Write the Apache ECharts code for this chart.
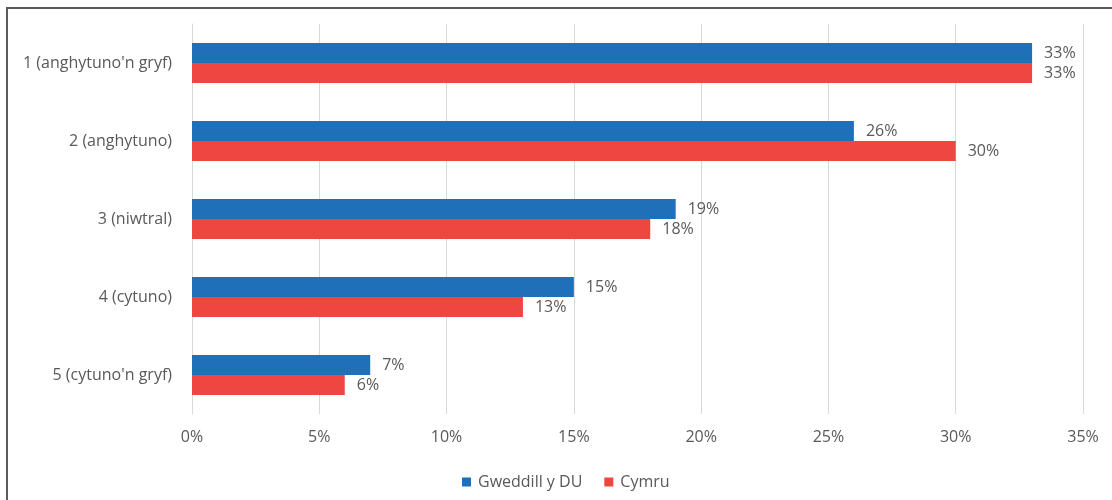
<!DOCTYPE html>
<html>
<head>
<meta charset="utf-8">
<script src="https://cdn.jsdelivr.net/npm/echarts@6/dist/echarts.min.js"></script>
<style>
  html, body { margin: 0; padding: 0; background: #ffffff; }
  #frame {
    position: absolute; left: 6px; top: 7px; width: 1200px; height: 600px;
    border-left: 2px solid #5b5b5b; border-top: 2px solid #5b5b5b;
  }
  #chart { position: absolute; left: 0; top: 0; width: 1112px; height: 500px; }
</style>
</head>
<body>
<div id="frame"></div>
<div id="chart"></div>
<script>
const categories = ["1 (anghytuno'n gryf)", "2 (anghytuno)", "3 (niwtral)", "4 (cytuno)", "5 (cytuno'n gryf)"];
const seriesNames = ["Gweddill y DU", "Cymru"];
const restOfUK = [33, 26, 19, 15, 7];
const wales = [33, 30, 18, 13, 6];

const textColor = '#595959';
const fontFamily = '"Open Sans", "Liberation Sans", sans-serif';
const fontSize = 16;

const chart = echarts.init(document.getElementById('chart'), null, { renderer: 'canvas' });

function barSeries(name, data, color) {
  return {
    name: name,
    type: 'bar',
    data: data,
    barWidth: 20,
    barGap: '0%',
    itemStyle: { color: color },
    label: {
      show: true,
      position: 'right',
      distance: 12,
      formatter: p => p.value + '%',
      color: textColor,
      fontFamily: fontFamily,
      fontSize: fontSize
    }
  };
}

chart.setOption({
  animation: false,
  textStyle: { fontFamily: fontFamily },
  grid: { left: 192, right: 29, top: 24, bottom: 86, containLabel: false },
  legend: {
    top: 469,
    left: 457,
    itemWidth: 9,
    itemHeight: 9,
    itemGap: 22,
    icon: 'rect',
    textStyle: { color: textColor, fontSize: fontSize, fontFamily: fontFamily, padding: [0, 0, 0, 2] },
    data: seriesNames
  },
  xAxis: {
    type: 'value',
    min: 0,
    max: 35,
    interval: 5,
    axisLine: { show: false },
    axisTick: { show: false },
    splitLine: { show: true, lineStyle: { color: '#d9d9d9', width: 1 } },
    axisLabel: {
      formatter: v => v + '%',
      color: textColor,
      fontSize: fontSize,
      margin: 15,
      fontFamily: fontFamily
    }
  },
  yAxis: {
    type: 'category',
    data: categories,
    inverse: true,
    axisLine: { show: true, lineStyle: { color: '#d9d9d9', width: 1 } },
    axisTick: { show: false },
    axisLabel: {
      color: textColor,
      fontSize: fontSize,
      margin: 20,
      fontFamily: fontFamily
    }
  },
  series: [
    barSeries(seriesNames[0], restOfUK, '#1f6fb9'),
    barSeries(seriesNames[1], wales, '#ef4641')
  ]
});
</script>
</body>
</html>
